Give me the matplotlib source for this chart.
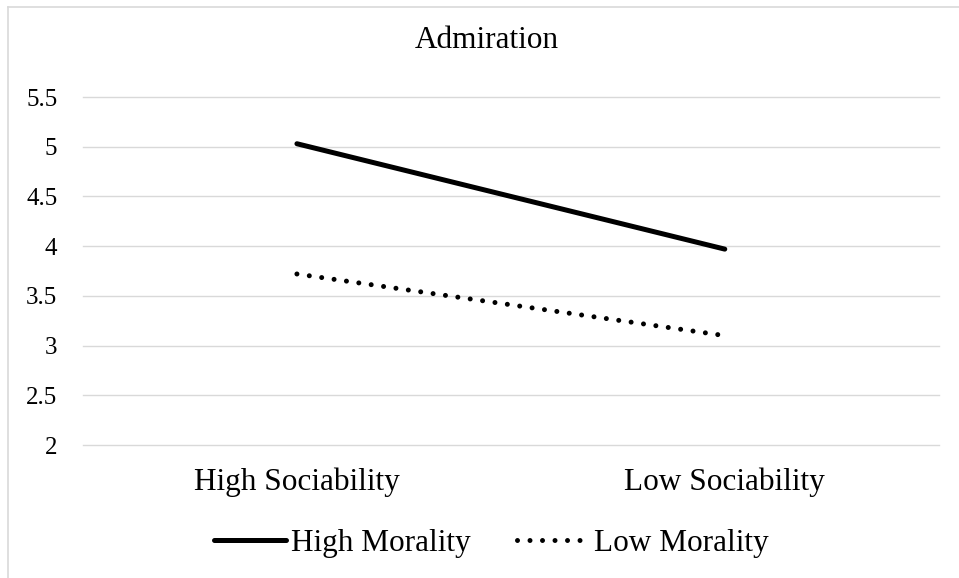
import matplotlib
matplotlib.use("Agg")
import matplotlib.pyplot as plt
from matplotlib.lines import Line2D

categories = ["High Sociability", "Low Sociability"]
high_morality = [5.03, 3.97]
low_morality = [3.72, 3.10]
yticks = [2, 2.5, 3, 3.5, 4, 4.5, 5, 5.5]
ytick_labels = ["2", "2.5", "3", "3.5", "4", "4.5", "5", "5.5"]

plt.rcParams['font.family'] = ['Liberation Serif', 'DejaVu Serif']

W, H = 959, 578
fig = plt.figure(figsize=(W / 100, H / 100), dpi=100)
ax = fig.add_axes([83 / W, 1 - 445 / H, (938.7 - 83) / W, (445 - 97) / H])

x = list(range(len(categories)))
ax.plot(x, high_morality, color='black', lw=3.6, solid_capstyle='round',
        label='High Morality')
ax.plot(x, low_morality, color='black', lw=3.6, linestyle=(0, (0.001, 2.5)),
        dash_capstyle='round', label='Low Morality')

ax.set_xlim(-0.5, 1.5)
ax.set_ylim(2, 5.5)
ax.set_yticks(yticks)
ax.set_yticklabels(ytick_labels)
ax.set_xticks(x)
ax.set_xticklabels(categories)
ax.tick_params(axis='y', length=0, pad=18.5, labelsize=18)
ax.tick_params(axis='x', length=0, pad=16, labelsize=22.5)
ax.grid(axis='y', color='#d9d9d9', lw=1.0)
for gl in ax.get_ygridlines():
    gl.set_clip_on(False)
ax.set_axisbelow(True)
for s in ax.spines.values():
    s.set_visible(False)

fig.text(487 / W, 1 - 40 / H, "Admiration", ha='center', va='center', fontsize=22.5)

fig.legend(loc='center', bbox_to_anchor=(491.5 / W, 1 - 543 / H), ncol=2,
           frameon=False, fontsize=22.5, handlelength=2.3, handletextpad=0.16,
           columnspacing=1.5, borderpad=0, borderaxespad=0)

# chart area border (top and left visible)
fig.add_artist(Line2D([8 / W, 1], [1 - 7 / H, 1 - 7 / H], transform=fig.transFigure,
                      color='#d9d9d9', lw=1.2))
fig.add_artist(Line2D([8 / W, 8 / W], [0, 1 - 7 / H], transform=fig.transFigure,
                      color='#d9d9d9', lw=1.2))

fig.savefig("out.png", dpi=100)
